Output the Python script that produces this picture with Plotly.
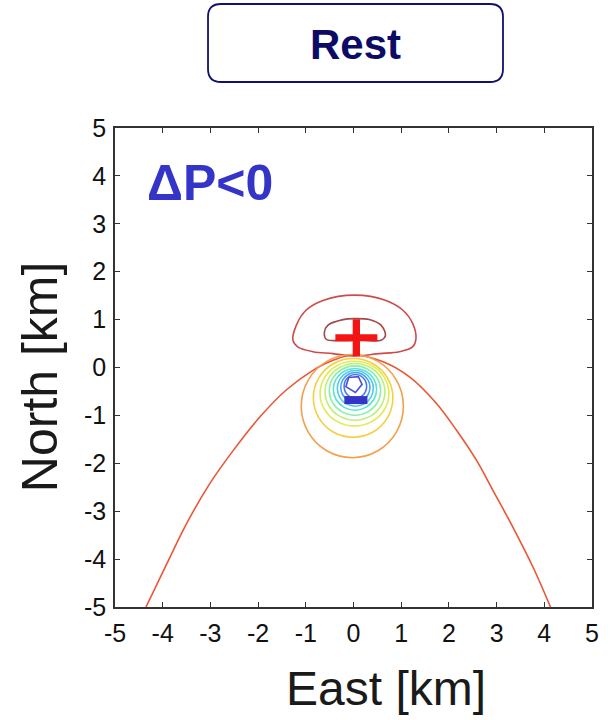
import plotly.graph_objects as go

# ---------------- data ----------------
x_tick_vals = [-5, -4, -3, -2, -1, 0, 1, 2, 3, 4, 5]
x_tick_text = ["-5", "-4", "-3", "-2", "-1", "0", "1", "2", "3", "4", "5"]
y_tick_vals = [-5, -4, -3, -2, -1, 0, 1, 2, 3, 4, 5]
y_tick_text = ["-5", "-4", "-3", "-2", "-1", "0", "1", "2", "3", "4", "5"]

# open contour (saddle-shaped, red-orange)
contour_arch = [(-4.35, -5.00), (-3.91, -4.09), (-3.50, -3.26), (-3.01, -2.42),
                (-2.52, -1.73), (-1.96, -1.03), (-1.41, -0.47), (-0.85, -0.06),
                (-0.43, 0.15), (0.00, 0.26), (0.62, 0.12), (1.18, -0.20),
                (1.74, -0.75), (2.16, -1.31), (2.58, -1.94), (2.92, -2.56),
                (3.34, -3.33), (3.76, -4.16), (4.13, -5.00)]

# positive lobe (north)
lobe_outer = [(0.02, 1.51), (-0.64, 1.40), (-0.99, 1.20), (-1.20, 0.88), (-1.27, 0.57),
              (-1.17, 0.43), (-0.85, 0.33), (-0.43, 0.29), (0.02, 0.24), (0.54, 0.29),
              (0.96, 0.33), (1.24, 0.43), (1.31, 0.60), (1.24, 0.92), (1.03, 1.20),
              (0.68, 1.40), (0.02, 1.51)]
lobe_inner = [(-0.61, 0.74), (-0.54, 0.88), (-0.22, 1.00), (0.02, 1.02), (0.33, 1.00),
              (0.58, 0.88), (0.67, 0.67), (0.58, 0.57), (0.19, 0.57), (-0.29, 0.56),
              (-0.57, 0.59), (-0.61, 0.74)]

# negative lobe (south), outer to inner
ring_1 = [(1.046, -0.806), (0.902, -0.267), (0.511, 0.127), (-0.025, 0.271), (-0.561, 0.127),
          (-0.952, -0.267), (-1.096, -0.806), (-0.952, -1.345), (-0.561, -1.739),
          (-0.025, -1.883), (0.511, -1.739), (0.902, -1.345), (1.046, -0.806)]
ring_2 = [(0.826, -0.634), (0.714, -0.223), (0.409, 0.078), (-0.008, 0.188), (-0.425, 0.078),
          (-0.730, -0.223), (-0.842, -0.634), (-0.730, -1.045), (-0.425, -1.346),
          (-0.008, -1.456), (0.409, -1.346), (0.714, -1.045), (0.826, -0.634)]
ring_3 = [(0.743, -0.544), (0.646, -0.206), (0.382, 0.041), (0.021, 0.131), (-0.340, 0.041),
          (-0.604, -0.206), (-0.701, -0.544), (-0.604, -0.882), (-0.340, -1.129),
          (0.021, -1.219), (0.382, -1.129), (0.646, -0.882), (0.743, -0.544)]
ring_4 = [(0.659, -0.508), (0.575, -0.212), (0.345, 0.005), (0.031, 0.084), (-0.283, 0.005),
          (-0.513, -0.212), (-0.597, -0.508), (-0.513, -0.804), (-0.283, -1.021),
          (0.031, -1.100), (0.345, -1.021), (0.575, -0.804), (0.659, -0.508)]
ring_5 = [(0.569, -0.481), (0.497, -0.223), (0.300, -0.035), (0.031, 0.034), (-0.238, -0.035),
          (-0.435, -0.223), (-0.507, -0.481), (-0.435, -0.739), (-0.238, -0.927),
          (0.031, -0.996), (0.300, -0.927), (0.497, -0.739), (0.569, -0.481)]
ring_6 = [(0.485, -0.456), (0.424, -0.238), (0.258, -0.079), (0.031, -0.021), (-0.196, -0.079),
          (-0.362, -0.238), (-0.423, -0.456), (-0.362, -0.674), (-0.196, -0.833),
          (0.031, -0.891), (0.258, -0.833), (0.424, -0.674), (0.485, -0.456)]
ring_7 = [(0.415, -0.435), (0.364, -0.248), (0.227, -0.112), (0.038, -0.062), (-0.151, -0.112),
          (-0.288, -0.248), (-0.339, -0.435), (-0.288, -0.622), (-0.151, -0.758),
          (0.038, -0.808), (0.227, -0.758), (0.364, -0.622), (0.415, -0.435)]
ring_8 = [(0.345, -0.414), (0.304, -0.259), (0.192, -0.146), (0.039, -0.104), (-0.114, -0.146),
          (-0.226, -0.259), (-0.267, -0.414), (-0.226, -0.569), (-0.114, -0.682),
          (0.039, -0.724), (0.192, -0.682), (0.304, -0.569), (0.345, -0.414)]
ring_9 = [(0.276, -0.394), (0.244, -0.270), (0.158, -0.180), (0.039, -0.147), (-0.080, -0.180),
          (-0.166, -0.270), (-0.198, -0.394), (-0.166, -0.518), (-0.080, -0.608),
          (0.039, -0.641), (0.158, -0.608), (0.244, -0.518), (0.276, -0.394)]
ring_10 = [(-0.10, -0.21), (0.10, -0.19), (0.18, -0.35), (0.04, -0.52), (-0.16, -0.40),
           (-0.10, -0.21)]

# source symbols
plus_pos = (0.06, 0.62)
minus_pos = (0.05, -0.68)

# ---------------- styles ----------------
FONT = "Liberation Sans"
TICK_FONT = dict(family=FONT, size=25, color="#111111")
contours = [
    (contour_arch, "#ea5636", "spline"),
    (lobe_outer, "#cf4a4a", "spline"),
    (lobe_inner, "#a24a4a", "spline"),
    (ring_1, "#f2a04c", "spline"),
    (ring_2, "#f5cf40", "spline"),
    (ring_3, "#e2ea55", "spline"),
    (ring_4, "#bdf07a", "spline"),
    (ring_5, "#8eefa6", "spline"),
    (ring_6, "#5de2d6", "spline"),
    (ring_7, "#4ccaf0", "spline"),
    (ring_8, "#4aa2f2", "spline"),
    (ring_9, "#4b78ee", "spline"),
    (ring_10, "#4b4fdc", "linear"),
]

fig = go.Figure()
for pts, col, shape in contours:
    fig.add_trace(go.Scatter(
        x=[p[0] for p in pts], y=[p[1] for p in pts], mode="lines",
        line=dict(color=col, width=1.6, shape=shape, smoothing=1.0),
        hoverinfo="skip", showlegend=False))

# "+" (red)
fig.add_trace(go.Scatter(x=[plus_pos[0]], y=[plus_pos[1]], mode="markers",
                         marker=dict(symbol="line-ew", size=30, color="#f41414",
                                     line=dict(color="#f41414", width=7)),
                         hoverinfo="skip", showlegend=False))
fig.add_trace(go.Scatter(x=[plus_pos[0]], y=[plus_pos[1]], mode="markers",
                         marker=dict(symbol="line-ns", size=26.5, color="#f41414",
                                     line=dict(color="#f41414", width=7.3)),
                         hoverinfo="skip", showlegend=False))
# "-" (blue)
fig.add_trace(go.Scatter(x=[minus_pos[0]], y=[minus_pos[1]], mode="markers",
                         marker=dict(symbol="line-ew", size=16.5, color="#3434c8",
                                     line=dict(color="#3434c8", width=8)),
                         hoverinfo="skip", showlegend=False))

axis_common = dict(range=[-5, 5], showgrid=False, zeroline=False, showline=True,
                   linecolor="#333333", linewidth=1.6, mirror="ticks", ticks="inside",
                   ticklen=5, tickwidth=1.3, tickcolor="#333333")
fig.update_layout(
    xaxis=dict(tickvals=x_tick_vals, ticktext=x_tick_text, tickfont=TICK_FONT,
               ticklabelstandoff=3, **axis_common),
    yaxis=dict(tickvals=y_tick_vals, ticktext=y_tick_text, tickfont=TICK_FONT,
               ticklabelstandoff=2, **axis_common),
)

# title box with rounded corners (paper coordinates)
bx0, bx1, by0, by1 = 0.195, 0.8134, 1.096, 1.2589
rx, ry = 13 / 477, 13 / 479
box_path = (f"M {bx0+rx},{by1} L {bx1-rx},{by1} Q {bx1},{by1} {bx1},{by1-ry} "
            f"L {bx1},{by0+ry} Q {bx1},{by0} {bx1-rx},{by0} L {bx0+rx},{by0} "
            f"Q {bx0},{by0} {bx0},{by0+ry} L {bx0},{by1-ry} Q {bx0},{by1} {bx0+rx},{by1} Z")
fig.add_shape(type="path", path=box_path, xref="paper", yref="paper",
              line=dict(color="#101070", width=1.8), fillcolor="rgba(0,0,0,0)")

fig.add_annotation(text="<b>Rest</b>", x=0.504, y=1.175, xref="paper", yref="paper",
                   showarrow=False, xanchor="center", yanchor="middle",
                   font=dict(family=FONT, size=42, color="#0c0c66"))
fig.add_annotation(text="<b>ΔP<0</b>", x=0.063, y=0.885, xref="paper", yref="paper",
                   showarrow=False, xanchor="left", yanchor="middle",
                   font=dict(family=FONT, size=50, color="#3434c8"))
fig.add_annotation(text="East [km]", x=0.569, y=-0.17, xref="paper", yref="paper",
                   showarrow=False, xanchor="center", yanchor="middle",
                   font=dict(family=FONT, size=48, color="#1a1a1a"))
fig.add_annotation(text="North [km]", x=-0.157, y=0.48, xref="paper", yref="paper",
                   showarrow=False, xanchor="center", yanchor="middle", textangle=-90,
                   font=dict(family=FONT, size=50, color="#1a1a1a"))

fig.update_layout(width=610, height=720, margin=dict(l=115, r=18, t=128, b=113),
                  paper_bgcolor="white", plot_bgcolor="white", showlegend=False)

fig.write_html("out.html")
